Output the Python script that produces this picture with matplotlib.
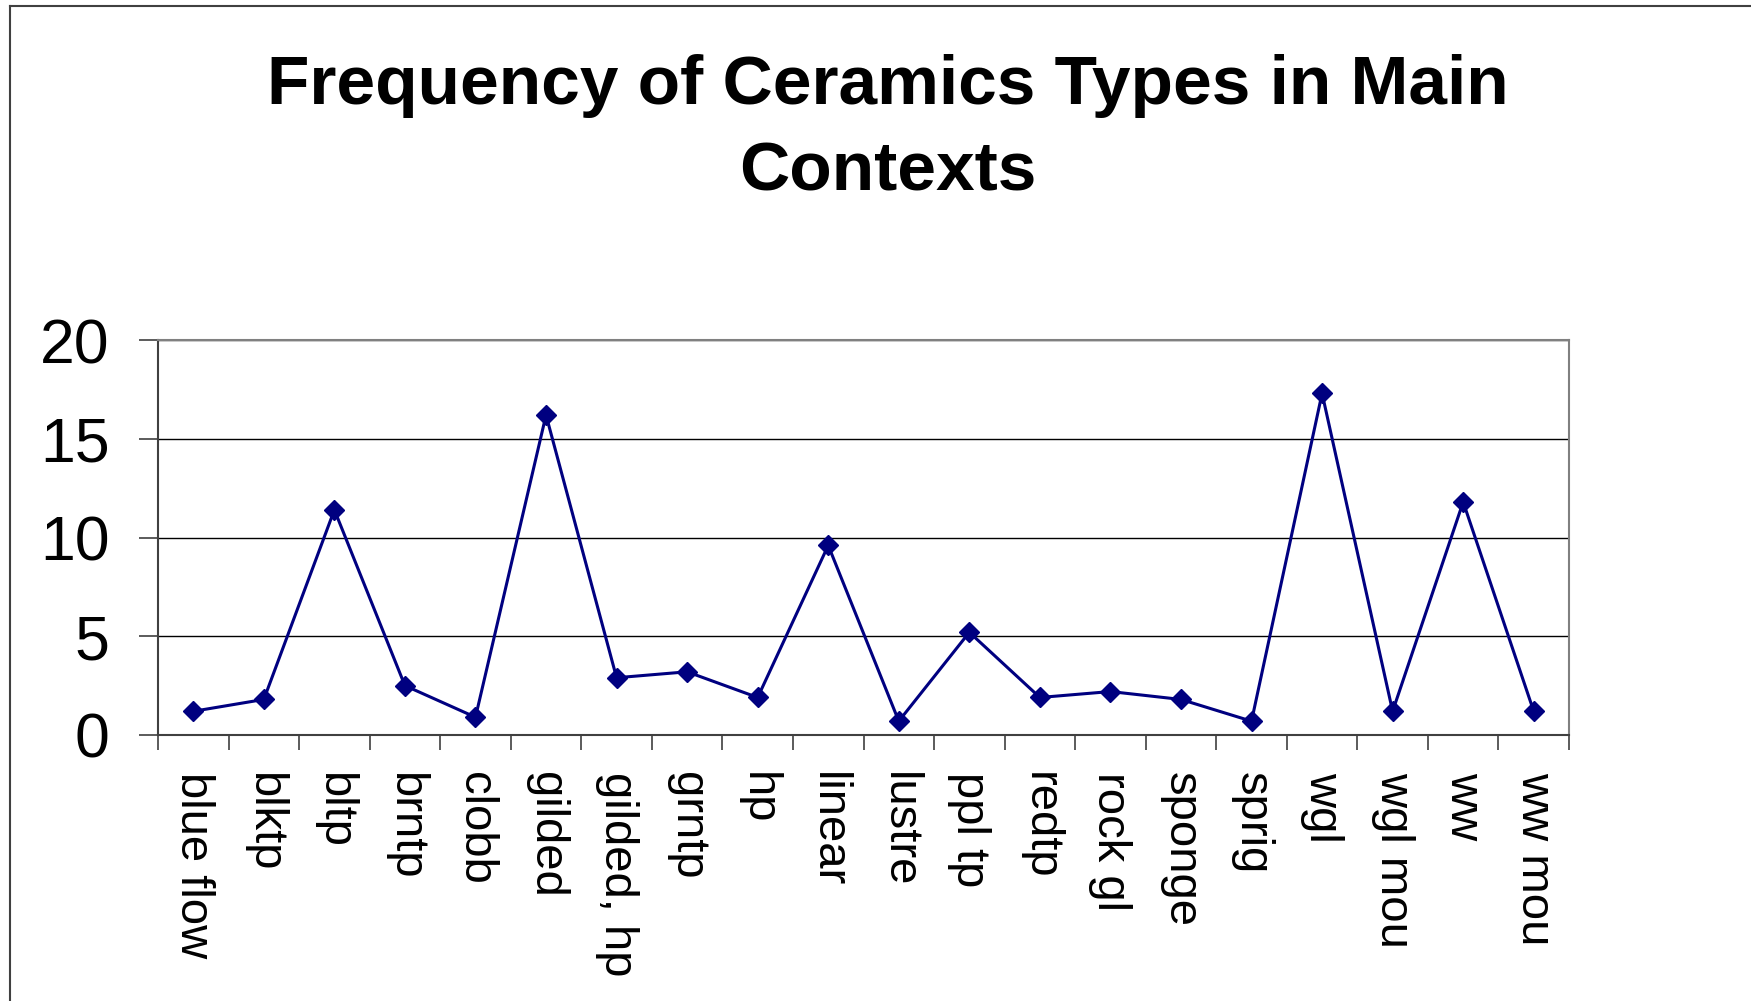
import numpy as np
import matplotlib
matplotlib.use("Agg")
import matplotlib.pyplot as plt
from matplotlib.lines import Line2D

plt.rcParams['font.family'] = ['Liberation Sans', 'DejaVu Sans']

# Ceramic types and their frequency in main contexts
types = ["blue flow", "blktp", "bltp", "brntp", "clobb", "gilded", "gilded, hp",
         "grntp", "hp", "linear", "lustre", "ppl tp", "redtp", "rock gl",
         "sponge", "sprig", "wgl", "wgl mou", "ww", "ww mou"]
freq = [1.2, 1.8, 11.4, 2.5, 0.9, 16.2, 2.9, 3.2, 1.9, 9.6,
        0.7, 5.2, 1.9, 2.2, 1.8, 0.7, 17.3, 1.2, 11.8, 1.2]
y_ticks = [0, 5, 10, 15, 20]

W, H = 1751, 1001
fig = plt.figure(figsize=(W / 100, H / 100), dpi=100)
ax = fig.add_axes([158 / W, 1 - 735 / H, (1569 - 158) / W, (735 - 340) / H])

x = np.arange(len(types)) + 0.5
ax.plot(x, freq, color="#000080", lw=2.2, marker="D", ms=10, zorder=3)

ax.set_xlim(0, len(types))
ax.set_ylim(0, 20)

# horizontal gridlines
ax.set_yticks(y_ticks)
ax.set_yticklabels([str(v) for v in y_ticks], fontsize=45)
ax.grid(axis="y", color="black", lw=1.0)
ax.tick_params(axis="y", direction="out", length=14, width=1.2, color="#404040", pad=21)

# ticks between categories, labels at category centres
ax.set_xticks(np.arange(len(types) + 1))
ax.set_xticklabels([])
ax.tick_params(axis="x", which="major", direction="out", length=11, width=1.2, color="#404040")
ax.set_xticks(x, minor=True)
ax.set_xticklabels(types, minor=True, rotation=270, fontsize=34, ha="center", va="top")
ax.tick_params(axis="x", which="minor", length=0, pad=27)

for side in ["left", "bottom"]:
    ax.spines[side].set_color("#404040")
    ax.spines[side].set_linewidth(1.5)
for side in ["top", "right"]:
    ax.spines[side].set_color("#808080")
    ax.spines[side].set_linewidth(1.5)

fig.text(888 / W, 1 - 54 / H, "Frequency of Ceramics Types in Main\nContexts",
         ha="center", va="top", fontsize=50, fontweight="bold", linespacing=1.45)

# outer chart border (only top and left visible)
fig.add_artist(Line2D([10 / W, 10 / W], [0, 1 - 6 / H], color="#404040", lw=1.5,
                      transform=fig.transFigure))
fig.add_artist(Line2D([10 / W, 1], [1 - 6 / H, 1 - 6 / H], color="#404040", lw=1.5,
                      transform=fig.transFigure))

plt.savefig("out.png", dpi=100)
